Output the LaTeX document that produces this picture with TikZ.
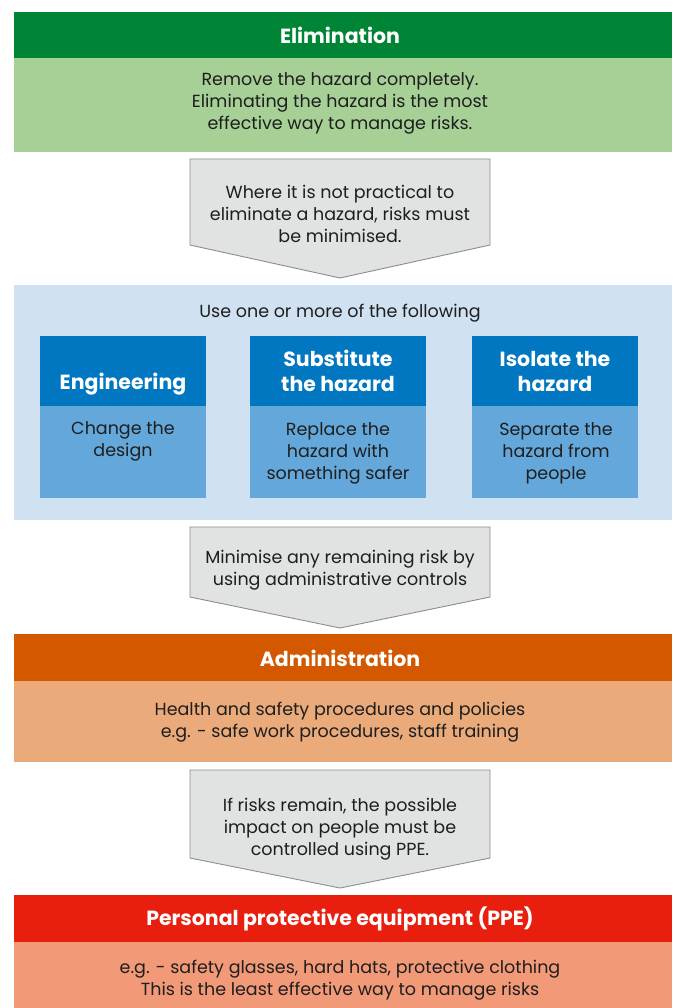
\documentclass[tikz,border=0pt]{standalone}
\usepackage{fontspec}
\setmainfont{Poppins}

\definecolor{elimdark}{RGB}{0,132,54}
\definecolor{elimlight}{RGB}{166,208,150}
\definecolor{useback}{RGB}{208,225,242}
\definecolor{optdark}{RGB}{0,119,192}
\definecolor{optlight}{RGB}{100,168,219}
\definecolor{admindark}{RGB}{212,88,0}
\definecolor{adminlight}{RGB}{234,170,122}
\definecolor{ppedark}{RGB}{232,30,14}
\definecolor{ppelight}{RGB}{242,154,120}
\definecolor{pointfill}{RGB}{225,227,227}
\definecolor{pointedge}{RGB}{140,140,140}
\definecolor{txtgray}{RGB}{30,30,30}

% pointer between two levels: top, bottom of sides, tip
\newcommand{\pointerbox}[3]{%
  \draw[pointer] (190,#1) -- (490,#1) -- (490,#2) -- (340,#3) -- (190,#2) -- cycle;}

\begin{document}
\begin{tikzpicture}[x=1pt,y=-1pt,
  headtxt/.style={text=white,font=\bfseries\fontsize{20.5}{25}\selectfont,align=center},
  bodytxt/.style={text=txtgray,font=\fontsize{17.5}{22}\selectfont,align=center},
  pointer/.style={fill=pointfill,draw=pointedge,line width=0.9pt,line join=miter}]

\useasboundingbox (0,0) rectangle (672,1008);

% Elimination
\fill[elimdark] (14,12) rectangle (672,58);
\fill[elimlight] (14,58) rectangle (672,152);
\node[headtxt] (elim) at (340,35) {Elimination};
\node[bodytxt] (elimtxt) at (340,103) {Remove the hazard completely.\\Eliminating the hazard is the most\\effective way to manage risks.};

% Premier passage
\pointerbox{159}{245}{278}
\node[bodytxt] (minim) at (340,214) {Where it is not practical to\\eliminate a hazard, risks must\\be minimised.};

% Choix des mesures
\fill[useback] (14,285) rectangle (672,520);
\node[bodytxt] (usetxt) at (340,313) {Use one or more of the following};

\fill[optdark] (40,336) rectangle (206,406);
\fill[optlight] (40,406) rectangle (206,498);
\node[headtxt] (engin) at (123,384) {Engineering};
\node[bodytxt] (engintxt) at (123,441) {Change the\\design};

\fill[optdark] (250,336) rectangle (426,406);
\fill[optlight] (250,406) rectangle (426,498);
\node[headtxt] (subst) at (338,371) {Substitute\\the hazard};
\node[bodytxt] (substtxt) at (338,453) {Replace the\\hazard with\\something safer};

\fill[optdark] (472,336) rectangle (638,406);
\fill[optlight] (472,406) rectangle (638,498);
\node[headtxt] (isol) at (555,371) {Isolate the\\hazard};
\node[bodytxt] (isoltxt) at (556,453) {Separate the\\hazard from\\people};

% Deuxieme passage
\pointerbox{527}{597}{628}
\node[bodytxt] (remain) at (340,570) {Minimise any remaining risk by\\using administrative controls};

% Administration
\fill[admindark] (14,634) rectangle (672,681);
\fill[adminlight] (14,681) rectangle (672,762);
\node[headtxt] (admin) at (340,658) {Administration};
\node[bodytxt] (admintxt) at (340,722) {Health and safety procedures and policies\\e.g. - safe work procedures, staff training};

% Troisieme passage
\pointerbox{770}{858}{888}
\node[bodytxt] (impact) at (340,829) {If risks remain, the possible\\impact on people must be\\controlled using PPE.};

% PPE
\fill[ppedark] (14,895) rectangle (672,942);
\fill[ppelight] (14,942) rectangle (672,1008);
\node[headtxt] (ppe) at (340,919) {Personal protective equipment (PPE)};
\node[bodytxt] (ppetxt) at (340,980) {e.g. - safety glasses, hard hats, protective clothing\\This is the least effective way to manage risks};
\end{tikzpicture}
\end{document}
